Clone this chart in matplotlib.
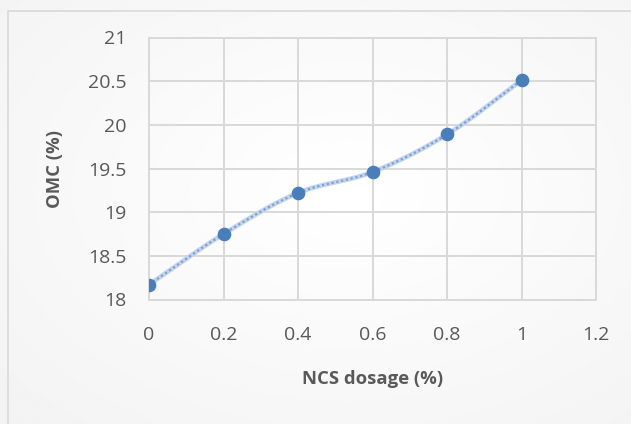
import numpy as np
import matplotlib
matplotlib.use("Agg")
import matplotlib.pyplot as plt
from matplotlib.patches import Rectangle

plt.rcParams["font.family"] = ["Open Sans", "DejaVu Sans"]

# data
dosage = [0, 0.2, 0.4, 0.6, 0.8, 1.0]
omc = [18.17, 18.75, 19.22, 19.46, 19.89, 20.51]
x_ticks = [0, 0.2, 0.4, 0.6, 0.8, 1, 1.2]
y_ticks = [18, 18.5, 19, 19.5, 20, 20.5, 21]


def smooth_curve(xs, ys, n=30):
    """Catmull-Rom curve through the points (Excel style smoothed line)"""
    pts = np.column_stack([xs, ys]).astype(float)
    pts = np.vstack([2 * pts[0] - pts[1], pts, 2 * pts[-1] - pts[-2]])
    out = []
    t = np.linspace(0, 1, n)[:, None]
    for i in range(1, len(pts) - 2):
        p0, p1, p2, p3 = pts[i - 1], pts[i], pts[i + 1], pts[i + 2]
        seg = 0.5 * (
            2 * p1
            + (-p0 + p2) * t
            + (2 * p0 - 5 * p1 + 4 * p2 - p3) * t**2
            + (-p0 + 3 * p1 - 3 * p2 + p3) * t**3
        )
        out.append(seg)
    out = np.vstack(out)
    return out[:, 0], out[:, 1]


fig = plt.figure(figsize=(6.31, 4.24), dpi=100)
fig.patch.set_facecolor("white")

# soft grey background gradient
bg = fig.add_axes([0, 0, 1, 1], zorder=-10)
yy, xx = np.mgrid[0:1:200j, 0:1:300j]
r = np.sqrt((xx - 0.55) ** 2 + (yy - 0.45) ** 2)
bg.imshow(1 - 0.05 * np.clip(r / 0.8, 0, 1), cmap="gray", vmin=0, vmax=1,
          extent=[0, 1, 0, 1], aspect="auto")
bg.add_patch(Rectangle((0.013, -0.01), 1.0, 0.985, fill=False,
                       edgecolor="#d9d9d9", linewidth=1.2))
bg.set_xlim(0, 1)
bg.set_ylim(0, 1)
bg.axis("off")

ax = fig.add_axes([149 / 631, 1 - 299.5 / 424, 447 / 631, 262 / 424])
ax.patch.set_alpha(0)

cx, cy = smooth_curve(dosage, omc)
ax.plot(cx, cy, color="#c3d4ec", linewidth=3.4, solid_capstyle="round", zorder=3)
ax.plot(cx, cy, color="#7f9fd0", linewidth=1.6, linestyle=(0, (1, 1.2)), zorder=3)
ax.plot(dosage, omc, linestyle="none", marker="o", markersize=8.8,
        color="#4a7ebb", zorder=4)

ax.set_xlim(0, 1.2)
ax.set_ylim(18, 21)
ax.set_xticks(x_ticks)
ax.set_xticklabels([f"{v:g}" for v in x_ticks])
ax.set_yticks(y_ticks)
ax.set_yticklabels([f"{v:g}" for v in y_ticks])
ax.grid(True, color="#d9d9d9", linewidth=1.4)
ax.set_axisbelow(True)
for s in ax.spines.values():
    s.set_color("#d9d9d9")
    s.set_linewidth(1.4)
ax.tick_params(length=0, labelsize=14, labelcolor="#595959")
ax.tick_params(axis="x", pad=19)
ax.tick_params(axis="y", pad=16)

ax.set_xlabel("NCS dosage (%)", fontsize=13.3, fontweight="bold", color="#595959")
ax.set_ylabel("OMC (%)", fontsize=13.3, fontweight="bold", color="#595959")
ax.xaxis.set_label_coords(0.5, -0.27)
ax.yaxis.set_label_coords(-0.19, 0.5)

fig.savefig("out.png", dpi=100)
